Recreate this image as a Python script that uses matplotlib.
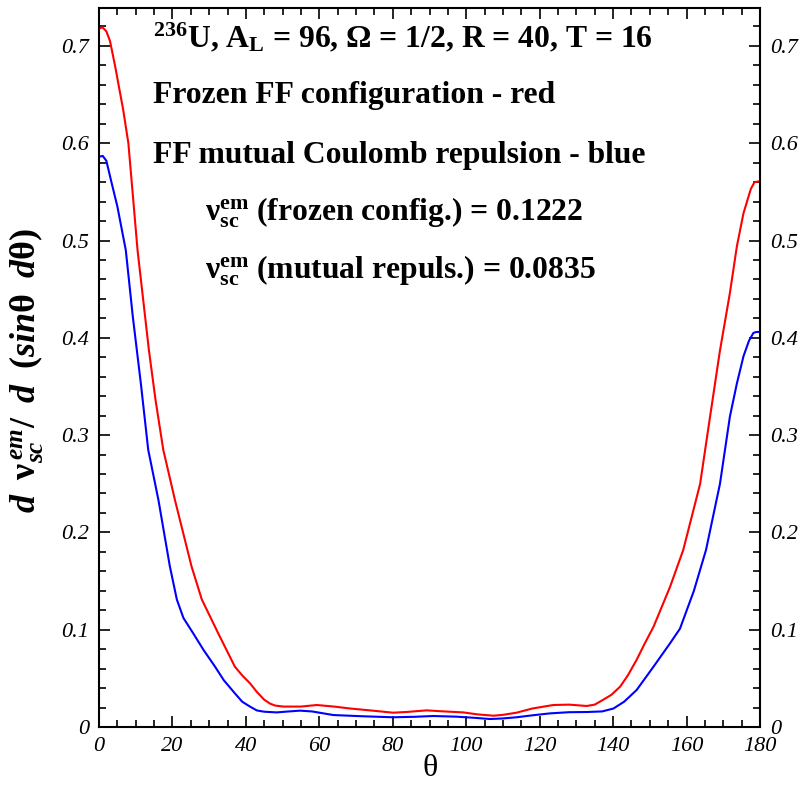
import matplotlib
matplotlib.use("Agg")
import matplotlib.pyplot as plt
from matplotlib.ticker import MultipleLocator

plt.rcParams['mathtext.fontset'] = 'custom'
plt.rcParams['mathtext.rm'] = 'Liberation Serif:bold'
plt.rcParams['mathtext.bf'] = 'Liberation Serif:bold'
plt.rcParams['mathtext.it'] = 'Liberation Serif:bold:italic'
plt.rcParams['font.family'] = ['Liberation Serif', 'DejaVu Serif']

# Frozen FF configuration (red)
theta_red = [0, 1, 2, 3, 4.4, 6.6, 8, 10.5, 13.6, 15.4, 17.5, 20.7, 25.2, 28, 32.5, 37,
             39, 41.1, 43, 45, 46.6, 48, 50.2, 55, 59.3, 64, 68.4, 74, 80.1, 84, 89.2,
             94, 99.2, 103, 107.4, 110, 113.7, 118, 123.7, 128, 132.8, 135, 137.3, 139.5,
             141.9, 144, 146.4, 148.5, 151, 155.5, 159.1, 163.7, 166.4, 169.1, 171.8,
             173.7, 175.5, 177.5, 178.5, 180]
val_red = [0.718, 0.719, 0.715, 0.705, 0.679, 0.634, 0.600, 0.490, 0.387, 0.336, 0.285,
           0.233, 0.165, 0.131, 0.096, 0.062, 0.053, 0.045, 0.036, 0.028, 0.024, 0.022,
           0.021, 0.021, 0.0226, 0.021, 0.019, 0.017, 0.0147, 0.0155, 0.0171, 0.016,
           0.015, 0.013, 0.0116, 0.0125, 0.0147, 0.019, 0.0226, 0.023, 0.0216, 0.023,
           0.028, 0.033, 0.0414, 0.053, 0.069, 0.085, 0.103, 0.144, 0.182, 0.250, 0.319,
           0.387, 0.446, 0.494, 0.528, 0.553, 0.560, 0.561]

# FF mutual Coulomb repulsion (blue)
theta_blue = [0, 1, 2, 3.45, 5, 7.3, 9.2, 11.4, 13.4, 16.2, 19.3, 21.2, 23, 25.7, 28.5,
              31.6, 34, 37, 39, 41.1, 43, 45, 48.4, 51, 54.7, 58, 63.8, 72, 80.1, 86, 91,
              97.4, 102, 106.5, 110, 113.7, 118, 122.8, 128, 132.8, 137, 140.1, 143,
              146.4, 151, 155.5, 158.2, 162, 165.3, 169.1, 171.8, 173.7, 175.5, 177,
              178.2, 179, 180]
val_blue = [0.586, 0.587, 0.582, 0.559, 0.535, 0.490, 0.422, 0.353, 0.285, 0.233, 0.165,
            0.131, 0.112, 0.096, 0.079, 0.062, 0.048, 0.0346, 0.026, 0.021, 0.017,
            0.0157, 0.015, 0.0158, 0.0168, 0.016, 0.0123, 0.011, 0.010, 0.0105, 0.0113,
            0.0106, 0.0095, 0.0082, 0.0088, 0.010, 0.012, 0.014, 0.0152, 0.0154, 0.016,
            0.019, 0.026, 0.038, 0.062, 0.086, 0.101, 0.140, 0.182, 0.250, 0.319, 0.353,
            0.381, 0.397, 0.405, 0.406, 0.406]

yticks = [0, 0.1, 0.2, 0.3, 0.4, 0.5, 0.6, 0.7]
ytick_labels = ['0', '0.1', '0.2', '0.3', '0.4', '0.5', '0.6', '0.7']

W, H = 802, 786
fig = plt.figure(figsize=(W / 100, H / 100), dpi=100)
ax = fig.add_axes([99 / W, 1 - 727 / H, (760 - 99) / W, (727 - 7.5) / H])

ax.plot(theta_red, val_red, color='#ff0000', lw=1.5)
ax.plot(theta_blue, val_blue, color='#0000ff', lw=1.5)

ax.set_xlim(0, 180)
ax.set_ylim(0, 0.7395)
ax.xaxis.set_major_locator(MultipleLocator(20))
ax.xaxis.set_minor_locator(MultipleLocator(5))
ax.set_yticks(yticks)
ax.set_yticklabels(ytick_labels)
ax.yaxis.set_minor_locator(MultipleLocator(0.02))

ax.tick_params(which='both', direction='in', top=True, right=True, labelright=True,
               width=1.2)
ax.tick_params(which='major', length=8, pad=7)
ax.tick_params(which='minor', length=5)
for t in ax.xaxis.get_major_ticks() + ax.yaxis.get_major_ticks():
    for lab in (t.label1, t.label2):
        lab.set_fontstyle('italic')
        lab.set_fontsize(16)
for sp in ax.spines.values():
    sp.set_linewidth(1.5)

fig.text(430 / W, 1 - 769 / H, 'θ', fontsize=23, ha='center', va='center')
fig.text(27 / W, 1 - 371 / H,
         r'$d\;\;\mathrm{ν}_{sc}^{\,em}/\;\;d\;\;(sin\mathrm{θ}\;\;d\mathrm{θ})$',
         rotation=90, fontsize=26, ha='center', va='center')

fs = 22.8
fig.text(153 / W, 1 - 47 / H,
         r'$^{236}$U, A$_{\mathrm{L}}$ = 96, Ω = 1/2, R = 40, T = 16',
         fontsize=fs, fontweight='bold', va='baseline')
fig.text(153 / W, 1 - 103 / H, 'Frozen FF configuration - red',
         fontsize=fs, fontweight='bold', va='baseline')
fig.text(153 / W, 1 - 163 / H, 'FF mutual Coulomb repulsion - blue',
         fontsize=fs, fontweight='bold', va='baseline')
fig.text(205 / W, 1 - 220 / H,
         r'$\mathrm{ν}_{\mathrm{sc}}^{\mathrm{em}}$ (frozen config.) = 0.1222',
         fontsize=fs, fontweight='bold', va='baseline')
fig.text(205 / W, 1 - 278 / H,
         r'$\mathrm{ν}_{\mathrm{sc}}^{\mathrm{em}}$ (mutual repuls.) = 0.0835',
         fontsize=fs, fontweight='bold', va='baseline')

fig.savefig('out.png', dpi=100)
